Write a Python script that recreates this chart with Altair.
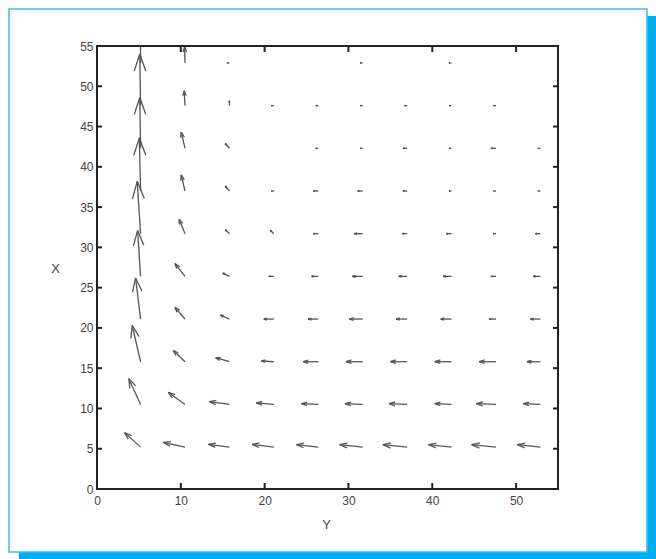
import altair as alt
import pandas as pd

# Grid of sample points (same spacing on both axes)
grid = [5.2, 10.5, 15.8, 21.1, 26.4, 31.7, 37.0, 42.3, 47.6, 52.9]

# Horizontal component (along "Y"), one list per row from bottom to top
u_rows = [
    [-1.9, -2.6, -2.5, -2.6, -2.6, -2.75, -2.9, -2.75, -2.9, -2.75],
    [-1.4, -2.0, -2.4, -2.1, -2.0, -2.1, -2.15, -2.0, -2.35, -2.05],
    [-1.0, -1.4, -1.65, -1.5, -1.8, -2.0, -2.0, -2.0, -2.0, -1.6],
    [-0.6, -1.2, -1.1, -1.2, -1.2, -1.6, -1.3, -1.3, -0.8, -1.2],
    [-0.35, -1.2, -0.8, -0.6, -0.8, -1.25, -1.0, -1.0, -0.6, -0.85],
    [-0.4, -0.7, -0.5, -0.4, -0.6, -1.0, -0.6, -0.65, -0.35, -0.6],
    [-0.15, -0.45, -0.5, -0.3, -0.6, -0.6, -0.5, -0.3, -0.3, -0.3],
    [-0.1, -0.45, -0.5, 0.0, -0.3, -0.3, -0.5, -0.3, -0.6, -0.3],
    [-0.1, -0.1, 0.0, -0.3, -0.3, -0.3, -0.3, -0.3, -0.3, 0.0],
    [-0.05, -0.05, -0.3, 0.0, 0.0, -0.3, 0.0, -0.3, 0.0, 0.0],
]

# Vertical component (along "X"), same layout
v_rows = [
    [1.8, 0.6, 0.35, 0.35, 0.3, 0.3, 0.3, 0.3, 0.3, 0.3],
    [3.2, 1.5, 0.35, 0.2, 0.1, 0.1, 0.1, 0.1, 0.1, 0.1],
    [4.5, 1.4, 0.5, 0.1, 0.0, 0.0, 0.0, 0.0, 0.0, 0.0],
    [5.1, 1.45, 0.5, 0.0, 0.0, 0.0, 0.0, 0.0, 0.0, 0.0],
    [5.7, 1.6, 0.4, 0.0, 0.0, 0.0, 0.0, 0.0, 0.0, 0.0],
    [6.5, 1.8, 0.5, 0.4, 0.0, 0.0, 0.0, 0.0, 0.0, 0.0],
    [6.6, 2.0, 0.6, 0.0, 0.0, 0.0, 0.0, 0.0, 0.0, 0.0],
    [6.3, 2.0, 0.6, 0.0, 0.0, 0.0, 0.0, 0.0, 0.0, 0.0],
    [6.4, 1.85, 0.6, 0.0, 0.0, 0.0, 0.0, 0.0, 0.0, 0.0],
    [6.4, 2.0, 0.0, 0.0, 0.0, 0.0, 0.0, 0.0, 0.0, 0.0],
]

x_tick_values = [0, 10, 20, 30, 40, 50]
y_tick_values = [0, 5, 10, 15, 20, 25, 30, 35, 40, 45, 50, 55]
x_inner_ticks = [10, 20, 30, 40, 50]
y_inner_ticks = [5, 10, 15, 20, 25, 30, 35, 40, 45, 50]

W, H = 461, 443
ALPHA, BETA = 0.33, 0.33  # arrowhead length / width factors

# Shaft and two head strokes for each arrow
segments = []
for i, yv in enumerate(grid):
    for j, xv in enumerate(grid):
        u, v = u_rows[i][j], v_rows[i][j]
        if u == 0 and v == 0:
            continue
        tx, ty = xv + u, yv + v
        segments.append({"a": xv, "b": yv, "a2": tx, "b2": ty})
        segments.append({"a": tx, "b": ty,
                         "a2": tx - ALPHA * (u + BETA * v),
                         "b2": ty - ALPHA * (v - BETA * u)})
        segments.append({"a": tx, "b": ty,
                         "a2": tx - ALPHA * (u - BETA * v),
                         "b2": ty - ALPHA * (v + BETA * u)})
seg_df = pd.DataFrame(segments)

xscale = alt.Scale(domain=[0, 55], nice=False, zero=False)
yscale = alt.Scale(domain=[0, 55], nice=False, zero=False)

font = "Liberation Sans"
x_axis = alt.Axis(values=x_tick_values, title="Y", ticks=False, domain=False, grid=False,
                  labelFont=font, labelFontSize=12, labelColor="#444", labelPadding=6,
                  labelFlush=False, zindex=1,
                  titleFont=font, titleFontSize=13, titleFontWeight="normal", titleColor="#444",
                  titleX=229, titleY=35, titleBaseline="middle", titleAlign="center")
y_axis = alt.Axis(values=y_tick_values, title="X", ticks=False, domain=False, grid=False,
                  labelFont=font, labelFontSize=12, labelColor="#444", labelPadding=4,
                  zindex=1,
                  titleFont=font, titleFontSize=13, titleFontWeight="normal", titleColor="#444",
                  titleAngle=0, titleX=-42, titleY=222, titleBaseline="middle", titleAlign="center")

one = pd.DataFrame({"k": [0]})

# Page frame: offset cyan shadow and white panel with a thin cyan border
shadow = alt.Chart(one).mark_rect(color="#00aeef").encode(
    x=alt.value(-78), x2=alt.value(560), y=alt.value(-30), y2=alt.value(513))
panel = alt.Chart(one).mark_rect(fill="white", stroke="#3dbdf0", strokeWidth=1.5).encode(
    x=alt.value(-88), x2=alt.value(550), y=alt.value(-37), y2=alt.value(506))

arrows = alt.Chart(seg_df).mark_rule(color="#555555", strokeWidth=1.3, clip=True).encode(
    x=alt.X("a:Q", scale=xscale, axis=x_axis),
    y=alt.Y("b:Q", scale=yscale, axis=y_axis),
    x2="a2:Q",
    y2="b2:Q",
)

box = alt.Chart(one).mark_rect(fillOpacity=0, stroke="#222", strokeWidth=2).encode(
    x=alt.value(0), x2=alt.value(W), y=alt.value(0), y2=alt.value(H))

xt = pd.DataFrame({"t": x_inner_ticks})
yt = pd.DataFrame({"t": y_inner_ticks})
tick_style = dict(color="#222", strokeWidth=2)
bottom_ticks = alt.Chart(xt).mark_rule(**tick_style).encode(
    x=alt.X("t:Q", scale=xscale), y=alt.value(H), y2=alt.value(H - 6))
top_ticks = alt.Chart(xt).mark_rule(**tick_style).encode(
    x=alt.X("t:Q", scale=xscale), y=alt.value(0), y2=alt.value(6))
left_ticks = alt.Chart(yt).mark_rule(**tick_style).encode(
    y=alt.Y("t:Q", scale=yscale), x=alt.value(0), x2=alt.value(5))
right_ticks = alt.Chart(yt).mark_rule(**tick_style).encode(
    y=alt.Y("t:Q", scale=yscale), x=alt.value(W), x2=alt.value(W - 5))

chart = alt.layer(
    shadow, panel, arrows, box, bottom_ticks, top_ticks, left_ticks, right_ticks
).properties(
    width=W, height=H,
    autosize=alt.AutoSizeParams(type="none"),
    padding={"left": 97, "top": 46, "right": 98, "bottom": 70},
).configure_view(stroke=None).configure(background="white")

chart.save("out.html", embed_options={"renderer": "svg", "actions": False})
